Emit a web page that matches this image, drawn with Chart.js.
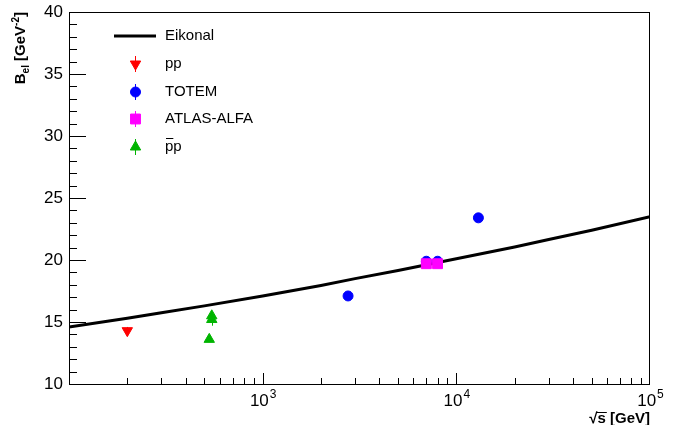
<!doctype html>
<html lang="en">
<head>
  <meta charset="utf-8">
  <title>B_el vs sqrt(s)</title>
  <style>
    * { margin: 0; padding: 0; }
    body { background: white; }
    .chartBox { width: 673px; height: 425px; }
  </style>
</head>
<body>
  <div class="chartBox">
    <canvas id="myChart" width="673" height="425"></canvas>
  </div>
  <script src="https://cdn.jsdelivr.net/npm/chart.js"></script>
  <script>
    // data
    const eikonalRootS = [100, 200, 300, 500, 1000, 2000, 3000, 5000, 10000, 20000, 30000, 50000, 100000];
    const eikonalB = [14.6, 15.3, 15.75, 16.3, 17.1, 17.95, 18.5, 19.15, 20.1, 21.05, 21.65, 22.4, 23.5];

    const ppRootS = [200];
    const ppB = [14.3];
    const ppErr = [0.3];

    const totemRootS = [2760, 7000, 8000, 13000];
    const totemB = [17.1, 19.9, 19.9, 23.4];
    const totemErr = [0.3, 0.3, 0.3, 0.3];

    const atlasRootS = [7000, 8000];
    const atlasB = [19.7, 19.7];
    const atlasErr = [0.2, 0.2];

    const ppbarRootS = [530, 546, 546];
    const ppbarB = [13.6, 15.5, 15.2];
    const ppbarErr = [0.2, 0.3, 0.5];

    const yTicks = [10, 15, 20, 25, 30, 35, 40];
    const xDecades = [3, 4, 5];

    const FONT = '"Liberation Sans", Arial, sans-serif';

    function pts(xs, ys) {
      return xs.map((x, i) => ({ x: x, y: ys[i] }));
    }

    // setup
    const data = {
      datasets: [
        {
          label: 'Eikonal',
          data: pts(eikonalRootS, eikonalB),
          showLine: true,
          borderColor: '#000000',
          borderWidth: 3,
          pointRadius: 0,
          order: 5
        },
        {
          label: 'pp',
          data: pts(ppRootS, ppB),
          errors: ppErr,
          backgroundColor: '#ff0000',
          borderColor: '#ff0000',
          pointStyle: 'triangle',
          rotation: 180,
          pointRadius: 6,
          order: 4
        },
        {
          label: 'TOTEM',
          data: pts(totemRootS, totemB),
          errors: totemErr,
          backgroundColor: '#0000ff',
          borderColor: '#0000ff',
          pointStyle: 'circle',
          pointRadius: 5,
          order: 3
        },
        {
          label: 'ATLAS-ALFA',
          data: pts(atlasRootS, atlasB),
          errors: atlasErr,
          backgroundColor: '#ff00ff',
          borderColor: '#ff00ff',
          pointStyle: 'rect',
          pointRadius: 7,
          order: 2
        },
        {
          label: 'pp',
          bar: true,
          data: pts(ppbarRootS, ppbarB),
          errors: ppbarErr,
          backgroundColor: '#00b400',
          borderColor: '#00b400',
          pointStyle: 'triangle',
          pointRadius: 6,
          order: 1
        }
      ]
    };

    function drawMarker(ctx, ds, x, y) {
      Chart.helpers.drawPoint(ctx, {
        pointStyle: ds.pointStyle,
        radius: ds.pointRadius,
        rotation: ds.rotation || 0,
        borderWidth: 1
      }, x, y);
    }

    // error bars under the markers
    const errorBars = {
      id: 'errorBars',
      beforeDatasetDraw(chart, args) {
        const ds = chart.data.datasets[args.index];
        if (!ds.errors) return;
        const ctx = chart.ctx;
        const ys = chart.scales.y;
        const xs = chart.scales.x;
        ctx.save();
        ctx.strokeStyle = ds.borderColor;
        ctx.lineWidth = 1;
        ds.data.forEach((p, i) => {
          const px = Math.round(xs.getPixelForValue(p.x)) + 0.5;
          ctx.beginPath();
          ctx.moveTo(px, ys.getPixelForValue(p.y - ds.errors[i]));
          ctx.lineTo(px, ys.getPixelForValue(p.y + ds.errors[i]));
          ctx.stroke();
        });
        ctx.restore();
      }
    };

    // ROOT style frame, inward ticks, labels, titles and legend
    const frame = {
      id: 'frame',
      afterDraw(chart) {
        const ctx = chart.ctx;
        const a = chart.chartArea;
        const xs = chart.scales.x;
        const ys = chart.scales.y;
        ctx.save();
        ctx.strokeStyle = '#000';
        ctx.fillStyle = '#000';
        ctx.lineWidth = 1;
        ctx.strokeRect(a.left + 0.5, a.top + 0.5, a.right - a.left - 1, a.bottom - a.top);

        // y ticks
        ctx.beginPath();
        for (let v = 10; v <= 40; v++) {
          const py = Math.round(ys.getPixelForValue(v)) + 0.5;
          const len = v % 5 === 0 ? 17 : 8;
          ctx.moveTo(a.left, py);
          ctx.lineTo(a.left + len, py);
        }
        // x ticks
        for (let d = 2; d < 5; d++) {
          for (let m = 1; m <= 9; m++) {
            const v = m * Math.pow(10, d);
            if (v <= 100) continue;
            const px = Math.round(xs.getPixelForValue(v)) + 0.5;
            const len = m === 1 ? 11 : 6;
            ctx.moveTo(px, a.bottom);
            ctx.lineTo(px, a.bottom - len);
          }
        }
        const pe = Math.round(xs.getPixelForValue(100000)) - 0.5;
        ctx.moveTo(pe, a.bottom);
        ctx.lineTo(pe, a.bottom - 11);
        ctx.stroke();

        // y labels
        ctx.font = '17px ' + FONT;
        ctx.textAlign = 'right';
        ctx.textBaseline = 'middle';
        yTicks.forEach(v => {
          ctx.fillText(String(v), a.left - 6, ys.getPixelForValue(v));
        });

        // x labels 10^n
        xDecades.forEach(n => {
          const px = xs.getPixelForValue(Math.pow(10, n));
          ctx.font = '17px ' + FONT;
          ctx.textAlign = 'left';
          ctx.textBaseline = 'alphabetic';
          const w = ctx.measureText('10').width;
          ctx.font = '12px ' + FONT;
          const ws = ctx.measureText(String(n)).width;
          const x0 = px - (w + ws) / 2;
          ctx.font = '17px ' + FONT;
          ctx.fillText('10', x0, 406);
          ctx.font = '12px ' + FONT;
          ctx.fillText(String(n), x0 + w + 1, 398);
        });

        // x title
        ctx.font = 'bold 15px ' + FONT;
        ctx.textAlign = 'right';
        ctx.textBaseline = 'alphabetic';
        ctx.fillText('\u221As [GeV]', a.right, 423);
        const sW = ctx.measureText('s [GeV]').width;
        const sS = ctx.measureText('s').width;
        ctx.beginPath();
        ctx.moveTo(a.right - sW - 1, 412.5);
        ctx.lineTo(a.right - sW + sS + 1, 412.5);
        ctx.stroke();

        // y title
        ctx.save();
        ctx.translate(25, a.top);
        ctx.rotate(-Math.PI / 2);
        ctx.textAlign = 'left';
        ctx.textBaseline = 'alphabetic';
        const parts = [['B', 'bold 15px', 0], ['el', 'bold 10px', 4], [' [GeV', 'bold 15px', 0], ['-2', 'bold 10px', -6], [']', 'bold 15px', 0]];
        let tw = 0;
        parts.forEach(p => { ctx.font = p[1] + ' ' + FONT; tw += ctx.measureText(p[0]).width; });
        let cx = -tw;
        parts.forEach(p => {
          ctx.font = p[1] + ' ' + FONT;
          ctx.fillText(p[0], cx, p[2]);
          cx += ctx.measureText(p[0]).width;
        });
        ctx.restore();

        // legend
        const rowY = [36, 64, 92, 119, 147];
        ctx.font = '15px ' + FONT;
        ctx.textAlign = 'left';
        ctx.textBaseline = 'middle';
        chart.data.datasets.forEach((ds, i) => {
          const y = rowY[i];
          if (i === 0) {
            ctx.lineWidth = 3;
            ctx.strokeStyle = '#000';
            ctx.beginPath();
            ctx.moveTo(114, y);
            ctx.lineTo(156, y);
            ctx.stroke();
          } else {
            ctx.lineWidth = 1;
            ctx.strokeStyle = ds.borderColor;
            ctx.beginPath();
            ctx.moveTo(135.5, y - 8);
            ctx.lineTo(135.5, y + 8);
            ctx.stroke();
            ctx.fillStyle = ds.backgroundColor;
            ctx.strokeStyle = ds.borderColor;
            drawMarker(ctx, ds, 135.5, y);
          }
          ctx.fillStyle = '#000';
          ctx.fillText(ds.label, 165, y);
          if (ds.bar) {
            const pw = ctx.measureText('p').width;
            ctx.lineWidth = 1;
            ctx.strokeStyle = '#000';
            ctx.beginPath();
            ctx.moveTo(166, y - 8.5);
            ctx.lineTo(165 + pw, y - 8.5);
            ctx.stroke();
          }
        });
        ctx.restore();
      }
    };

    // config
    const config = {
      type: 'scatter',
      data,
      options: {
        responsive: false,
        animation: false,
        layout: { padding: { left: 69, right: 23, top: 12, bottom: 41 } },
        plugins: {
          legend: { display: false },
          tooltip: { enabled: false }
        },
        scales: {
          x: { type: 'logarithmic', min: 100, max: 100000, display: false },
          y: { type: 'linear', min: 10, max: 40, display: false }
        }
      },
      plugins: [errorBars, frame]
    };

    const myChart = new Chart(document.getElementById('myChart'), config);
  </script>
</body>
</html>
